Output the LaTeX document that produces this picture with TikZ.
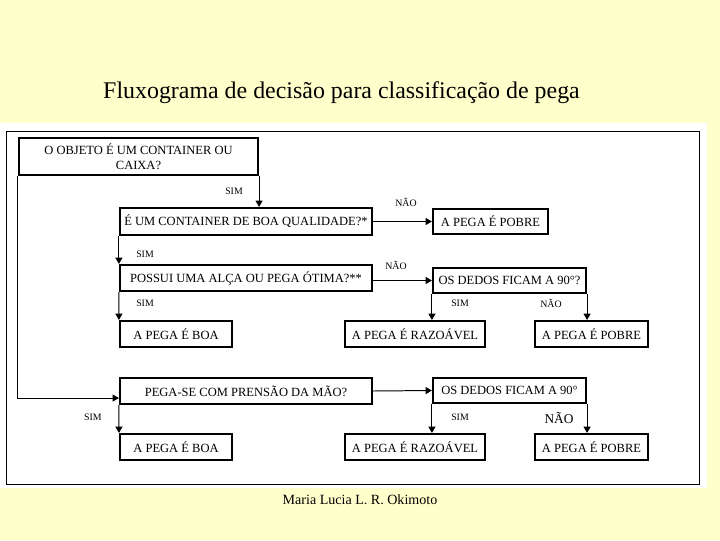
\documentclass[tikz,border=0pt]{standalone}
\usepackage{fontspec}
\setmainfont{Liberation Serif}
\usetikzlibrary{arrows.meta}
\definecolor{fundo}{HTML}{FFFFCC}
\tikzset{caixa/.style = {draw, line width = 1.5pt, inner sep = 0, align = center, font = \fontsize{8.9}{10.5}\selectfont}}
\tikzset{rot/.style = {inner sep = 0, font = \fontsize{7}{8}\selectfont}}
\tikzset{seta/.style = {-{Triangle[length=4.5pt,width=5pt]}, line width = 0.7pt}}

\begin{document}
\begin{tikzpicture}[x=0.025cm, y=-0.025cm]
    \fill[fundo] (0,0) rectangle (720,540);
    \useasboundingbox (0,0) rectangle (720,540);
    \fill[white] (0,123) rectangle (707,488);
    \draw[line width = 0.7pt] (6,131) rectangle (699,484);
    \node[anchor=base, font=\fontsize{17}{20}\selectfont] (titulo) at (341.5,98) {Fluxograma de decisão para classificação de pega};
    \node[anchor=base, font=\fontsize{10}{12}\selectfont] (autora) at (360,504) {Maria Lucia L. R. Okimoto};
    % perguntas
    \node[caixa, minimum width=5.975cm, minimum height=0.925cm] (objeto) at (138.5,156.5) {O OBJETO É UM CONTAINER OU\\CAIXA?};
    \node[caixa, minimum width=6.3cm, minimum height=0.675cm] (qualidade) at (246,221.5) {É UM CONTAINER DE BOA QUALIDADE?*};
    \node[caixa, minimum width=6.3cm, minimum height=0.65cm] (alca) at (246,278) {POSSUI UMA ALÇA OU PEGA ÓTIMA?**};
    \node[caixa, minimum width=3.825cm, minimum height=0.625cm] (dedos) at (509.5,280.5) {OS DEDOS FICAM A 90°?};
    \node[caixa, minimum width=6.3cm, minimum height=0.65cm] (prensao) at (246,391) {PEGA-SE COM PRENSÃO DA MÃO?};
    \node[caixa, minimum width=3.825cm, minimum height=0.625cm] (dedosb) at (509.5,390.5) {OS DEDOS FICAM A 90°};
    % respostas
    \node[caixa, minimum width=2.875cm, minimum height=0.625cm] (pobre) at (490.5,221.5) {A PEGA É POBRE};
    \foreach \y/\n in {334/a, 447/b} {
        \node[caixa, minimum width=2.8cm, minimum height=0.65cm] (boa\n) at (176,\y) {A PEGA É BOA};
        \node[caixa, minimum width=3.5cm, minimum height=0.65cm] (razoavel\n) at (415,\y) {A PEGA É RAZOÁVEL};
        \node[caixa, minimum width=2.825cm, minimum height=0.65cm] (pobre\n) at (591.5,\y) {A PEGA É POBRE};
    }
    % setas
    \draw[seta] (objeto.south east) -- (objeto.south east |- qualidade.north);
    \draw[seta] (objeto.south west) |- ([yshift=-5]prensao.west);
    \draw[seta] (qualidade.east) -- (pobre.west);
    \draw[seta] (qualidade.south west) -- (alca.north west);
    \draw[seta] (alca.east |- dedos.west) -- (dedos.west);
    \draw[seta] (alca.south west) -- (boaa.north west);
    \draw[seta] (dedos.south west) -- (dedos.south west |- razoavela.north);
    \draw[seta] (dedos.south east) -- (dedos.south east |- pobrea.north);
    \draw[seta] (prensao.east) -- (dedosb.west);
    \draw[seta] (prensao.south west) -- (boab.north west);
    \draw[seta] (dedosb.south west) -- (dedosb.south west |- razoavelb.north);
    \draw[seta] (dedosb.south east) -- (dedosb.south east |- pobreb.north);
    % rotulos
    \node[rot] (sim1) at (234,191) {SIM};
    \node[rot] (nao1) at (406,202) {NÃO};
    \node[rot] (sim2) at (145,254) {SIM};
    \node[rot] (nao2) at (396,265) {NÃO};
    \node[rot] (sim3) at (145,303) {SIM};
    \node[rot] (sim4) at (460,303) {SIM};
    \node[rot] (nao3) at (551,303) {NÃO};
    \node[rot] (sim5) at (93,417) {SIM};
    \node[rot] (sim6) at (460,417) {SIM};
    \node[rot, font=\fontsize{9.5}{10.5}\selectfont] (nao4) at (559,418) {NÃO};
\end{tikzpicture}
\end{document}
